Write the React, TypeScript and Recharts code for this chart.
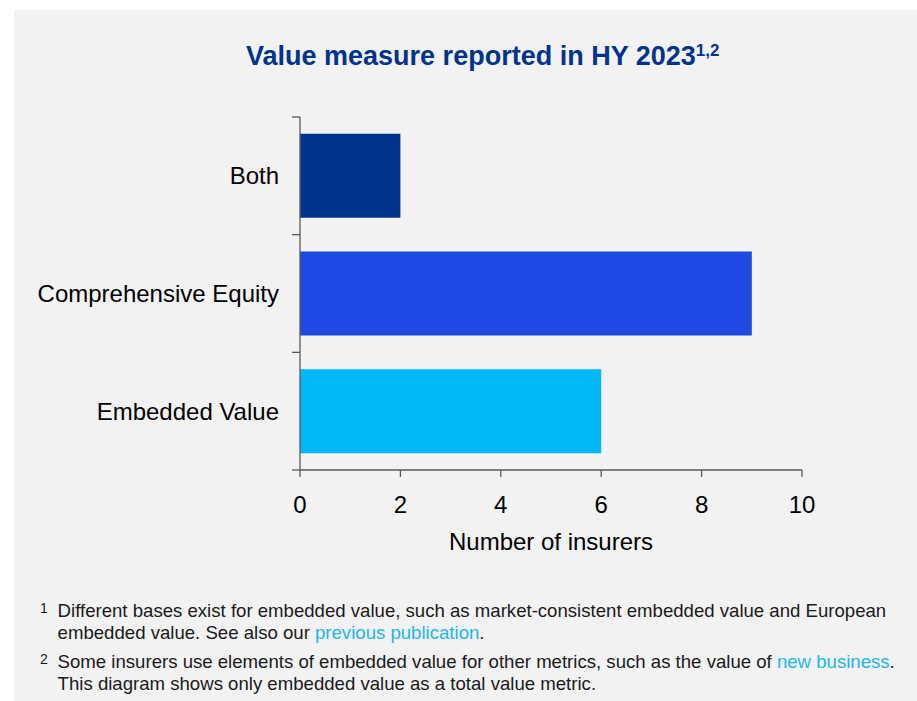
import React from "react";
import { Bar, BarChart, Cell, XAxis, YAxis } from "recharts";

const categories = ["Both", "Comprehensive Equity", "Embedded Value"];
const insurerCounts = [2, 9, 6];
const barColors = ["#00338D", "#1E49E2", "#00B8F5"];
const xTicks = [0, 2, 4, 6, 8, 10];

const chartData = categories.map((name, i) => ({
  name,
  count: insurerCounts[i],
}));

const FONT = "Arial, 'Liberation Sans', sans-serif";
const AXIS_COLOR = "#595959";
const LINK_COLOR = "#1DB6F2";
const Y_TICK_SIZE = 8;
const Y_TICK_MARGIN = 13;

// category labels sit in the middle of each band, tick marks on the band edges
function CategoryTick(props: any) {
  const { x, y, payload, index, visibleTicksCount } = props;
  const half = payload?.offset ?? 0;
  const x1 = x + Y_TICK_MARGIN;
  const x2 = x1 + Y_TICK_SIZE;
  const isLast = index === visibleTicksCount - 1;
  return (
    <g>
      <line x1={x1} x2={x2} y1={y - half} y2={y - half} stroke={AXIS_COLOR} strokeWidth={1.3} />
      {isLast && (
        <line x1={x1} x2={x2} y1={y + half} y2={y + half} stroke={AXIS_COLOR} strokeWidth={1.3} />
      )}
      <text
        x={x}
        y={y}
        dy="0.35em"
        textAnchor="end"
        fontSize={24}
        fill="#000"
        fontFamily={FONT}
      >
        {payload.value}
      </text>
    </g>
  );
}

function Footnote({ num, children }: { num: string; children: React.ReactNode }) {
  return (
    <div style={{ position: "relative", paddingLeft: 17.6, marginBottom: 7 }}>
      <span
        style={{
          position: "absolute",
          left: 0,
          top: 2,
          fontSize: 14,
          lineHeight: "13px",
        }}
      >
        {num}
      </span>
      {children}
    </div>
  );
}

export default function App() {
  return (
    <div
      style={{
        position: "absolute",
        left: 14,
        top: 10,
        width: 903,
        height: 691,
        background: "#f2f2f2",
        fontFamily: FONT,
        overflow: "hidden",
      }}
    >
      <div
        style={{
          position: "absolute",
          left: 232,
          top: 33,
          whiteSpace: "nowrap",
          fontSize: 27,
          lineHeight: 1,
          fontWeight: "bold",
          color: "#00338D",
        }}
      >
        Value measure reported in HY 2023
        <span style={{ fontSize: 17, position: "relative", top: -9 }}>1,2</span>
      </div>

      <div style={{ position: "absolute", left: 0, top: 0 }}>
        <BarChart
          width={903}
          height={550}
          data={chartData}
          layout="vertical"
          margin={{ top: 107, right: 115, bottom: 0, left: 0 }}
          barCategoryGap="14.3%"
        >
          <XAxis
            type="number"
            domain={[0, 10]}
            ticks={xTicks}
            interval={0}
            tickSize={7}
            tickMargin={19}
            height={90}
            stroke={AXIS_COLOR}
            strokeWidth={1.3}
            tick={{ fontSize: 24, fill: "#000", fontFamily: FONT }}
            label={{
              value: "Number of insurers",
              position: "insideBottom",
              offset: 10,
              fontSize: 24,
              fill: "#000",
              fontFamily: FONT,
            }}
          />
          <YAxis
            type="category"
            dataKey="name"
            width={286}
            interval={0}
            tickLine={false}
            tickSize={Y_TICK_SIZE}
            tickMargin={Y_TICK_MARGIN}
            stroke={AXIS_COLOR}
            strokeWidth={1.3}
            tick={<CategoryTick />}
          />
          <Bar dataKey="count" isAnimationActive={false}>
            {chartData.map((entry, i) => (
              <Cell key={entry.name} fill={barColors[i]} />
            ))}
          </Bar>
        </BarChart>
      </div>

      <div
        style={{
          position: "absolute",
          left: 26,
          top: 590,
          fontSize: 18.6,
          lineHeight: "22px",
          color: "#1a1a1a",
          whiteSpace: "nowrap",
        }}
      >
        <Footnote num="1">
          Different bases exist for embedded value, such as market-consistent embedded value and European
          <br />
          embedded value. See also our <span style={{ color: LINK_COLOR }}>previous publication</span>.
        </Footnote>
        <Footnote num="2">
          Some insurers use elements of embedded value for other metrics, such as the value of{" "}
          <span style={{ color: LINK_COLOR }}>new business</span>.
          <br />
          This diagram shows only embedded value as a total value metric.
        </Footnote>
      </div>
    </div>
  );
}
